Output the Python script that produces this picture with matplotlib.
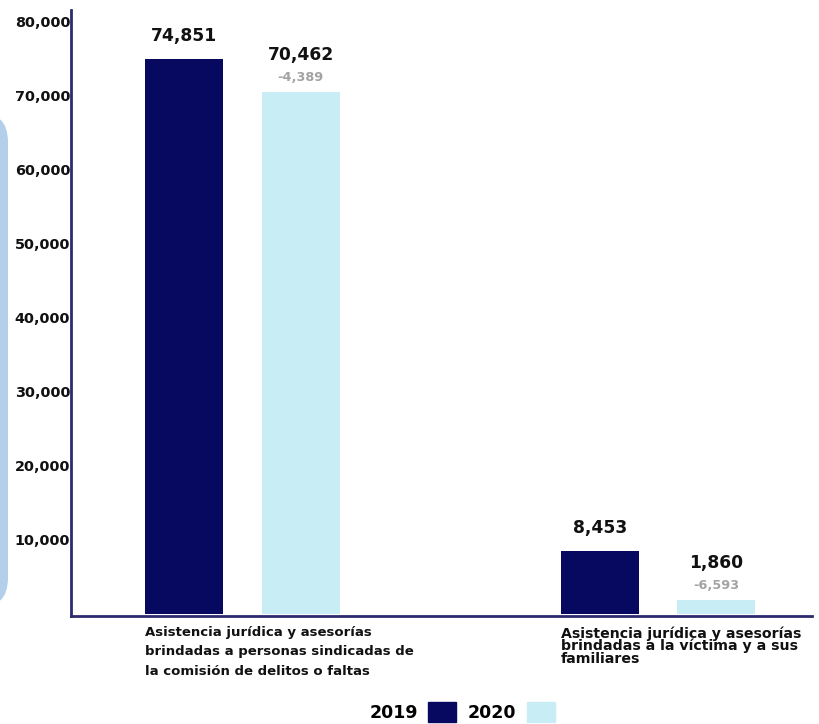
import matplotlib
matplotlib.use("Agg")
import matplotlib.pyplot as plt
from matplotlib.patches import Patch, FancyBboxPatch
import numpy as np

categories = [
    "Asistencia jurídica y asesorías\nbrindadas a personas sindicadas de\nla comisión de delitos o faltas",
    "Asistencia jurídica y asesorías\nbrindadas a la víctima y a sus\nfamiliares",
]
years = ["2019", "2020"]
values_2019 = [74851, 8453]
values_2020 = [70462, 1860]
changes = ["-4,389", "-6,593"]
yticks = [10000, 20000, 30000, 40000, 50000, 60000, 70000, 80000]

navy = "#07085f"
light = "#c8edf4"
axis_col = "#2d2a6e"
FONT = ["DejaVu Sans"]

fig = plt.figure(figsize=(8.19, 7.24), dpi=100)
ax = fig.add_axes([71/819, 108/724, 741/819, 606/724])

x = np.arange(len(categories))
off = 0.140
w = 0.188
b1 = ax.bar(x - off, values_2019, w, color=navy, zorder=2)
b2 = ax.bar(x + off, values_2020, w, color=light, zorder=2)

ax.set_xlim(-0.413, 1.371)
ax.set_ylim(-300, 81500)
ax.set_yticks(yticks)
ax.set_yticklabels([f"{v:,}" for v in yticks], fontsize=10.4, fontweight="bold",
                   family=FONT, color="#111111")
ax.set_xticks([])
ax.tick_params(axis="y", length=0, pad=0.5)
for s in ["top", "right"]:
    ax.spines[s].set_visible(False)
for s in ["left", "bottom"]:
    ax.spines[s].set_color(axis_col)
    ax.spines[s].set_linewidth(2)

for rect, v in zip(b1, values_2019):
    ax.annotate(f"{v:,}", (rect.get_x() + rect.get_width()/2, v),
                xytext=(0, 23), textcoords="offset pixels", ha="center", va="center",
                fontsize=12.3, fontweight="bold", family=FONT, color="#111111")
for rect, v, c in zip(b2, values_2020, changes):
    cx = rect.get_x() + rect.get_width()/2
    ax.annotate(f"{v:,}", (cx, v), xytext=(0, 37), textcoords="offset pixels",
                ha="center", va="center", fontsize=12.3, fontweight="bold",
                family=FONT, color="#111111")
    ax.annotate(c, (cx, v), xytext=(0, 14), textcoords="offset pixels",
                ha="center", va="center", fontsize=9.3, fontweight="bold",
                family=FONT, color="#a3a3a3")

trans = ax.get_xaxis_transform()
ax.text(x[0] - off - w/2, -0.016, categories[0], transform=trans, ha="left", va="top",
        fontsize=9.5, fontweight="bold", family=FONT, color="#111111", linespacing=1.68)
ax.text(x[1] - off - w/2, -0.017, categories[1], transform=trans, ha="left", va="top",
        fontsize=10.2, fontweight="bold", family=FONT, color="#111111", linespacing=0.84)

handles = [Patch(color=navy), Patch(color=light)]
fig.legend(handles, years, loc="center", bbox_to_anchor=(462/819, 1 - 712/724),
           ncol=2, frameon=False, markerfirst=False, handlelength=1.6,
           handleheight=1.4, handletextpad=0.6, columnspacing=0.7,
           prop={"family": FONT, "weight": "bold", "size": 12.5})

deco = FancyBboxPatch((-100, 116), 108, 496, boxstyle="round,pad=0,rounding_size=30",
                      transform=None, facecolor="#b3cfea", edgecolor="none")
fig.patches.append(deco)

fig.savefig("out.png", dpi=100)
